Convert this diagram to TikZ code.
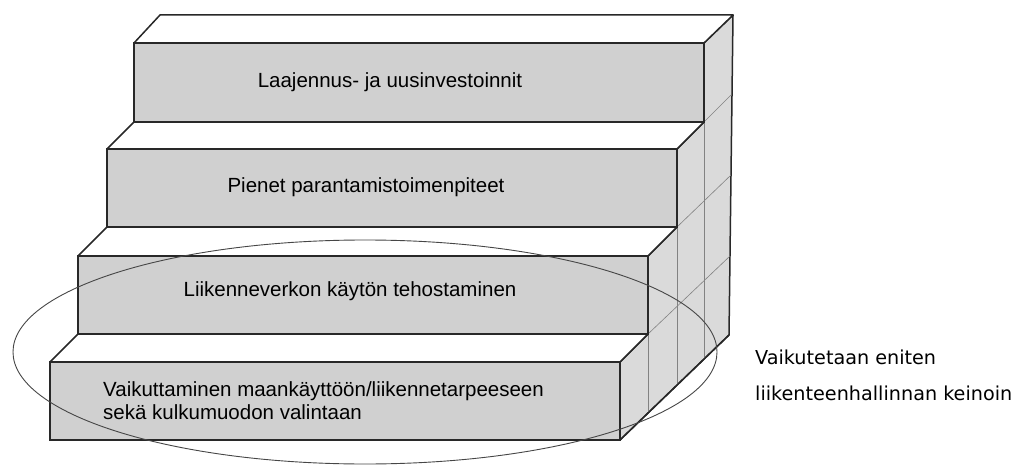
\documentclass[tikz,border=0pt]{standalone}
\usepackage{fontspec}
\setmainfont{Liberation Sans}
\newfontfamily\labelfont{DejaVu Sans}
\definecolor{frontgray}{RGB}{208,208,208}
\definecolor{sidegray}{RGB}{218,218,218}
\definecolor{edge}{RGB}{40,40,40}
\definecolor{thin}{RGB}{130,130,130}
\definecolor{ellcol}{RGB}{70,70,70}
\begin{document}
\begin{tikzpicture}[x=1pt,y=-1pt,
  frontface/.style={fill=frontgray,draw=edge,line width=1.5pt},
  treadface/.style={fill=white,draw=edge,line width=1.5pt,line join=round},
  sideface/.style={fill=sidegray,draw=edge,line width=1.5pt,line join=round},
  thinline/.style={draw=thin,line width=0.6pt},
  steptext/.style={font=\fontsize{20.5}{23}\selectfont,text=black,inner sep=0pt},
  sidelabel/.style={font=\labelfont\fontsize{19.2}{36}\selectfont,align=left,anchor=west,inner sep=0pt}]
\useasboundingbox (0,0) rectangle (1032,465);
% side face
\draw[sideface] (704,43) -- (733,15) -- (729,335) -- (620,440) -- (620,362) -- (648,334)
  -- (648,256) -- (677,227) -- (677,149) -- (704,122) -- cycle;
% thin grid on side face
\draw[thinline] (704,122) -- (704,359);
\draw[thinline] (677,227) -- (677,385);
\draw[thinline] (648,334) -- (648,413);
\draw[thinline] (704,122) -- (731,95);
\draw[thinline] (677,227) -- (731,175);
\draw[thinline] (648,334) -- (730,256);
% treads (top faces)
\draw[treadface] (134,43) -- (160,15) -- (733,15) -- (704,43) -- cycle;
\draw[treadface] (107,149) -- (134,122) -- (704,122) -- (677,149) -- cycle;
\draw[treadface] (78,256) -- (107,227) -- (677,227) -- (648,256) -- cycle;
\draw[treadface] (50,362) -- (78,334) -- (648,334) -- (620,362) -- cycle;
% front faces
\draw[frontface] (134,43) rectangle (704,122);
\draw[frontface] (107,149) rectangle (677,227);
\draw[frontface] (78,256) rectangle (648,334);
\draw[frontface] (50,362) rectangle (620,440);
% re-stroke bottom diagonal edge
\draw[edge,line width=1.5pt] (620,440) -- (729,335);
% ellipse
\draw[ellcol,line width=0.9pt] (365,352) ellipse [x radius=352pt, y radius=112pt];
% texts
\node[steptext] (t1) at (390,82) {Laajennus- ja uusinvestoinnit};
\node[steptext] (t2) at (366,187) {Pienet parantamistoimenpiteet};
\node[steptext] (t3) at (350,291) {Liikenneverkon käytön tehostaminen};
\node[steptext,anchor=west,align=left,font=\fontsize{20.5}{23}\selectfont] (t4) at (103,401)
  {Vaikuttaminen maankäyttöön/liikennetarpeeseen\\sekä kulkumuodon valintaan};
\node[sidelabel] (lab) at (755,375) {Vaikutetaan eniten\\liikenteenhallinnan keinoin};
\end{tikzpicture}
\end{document}
